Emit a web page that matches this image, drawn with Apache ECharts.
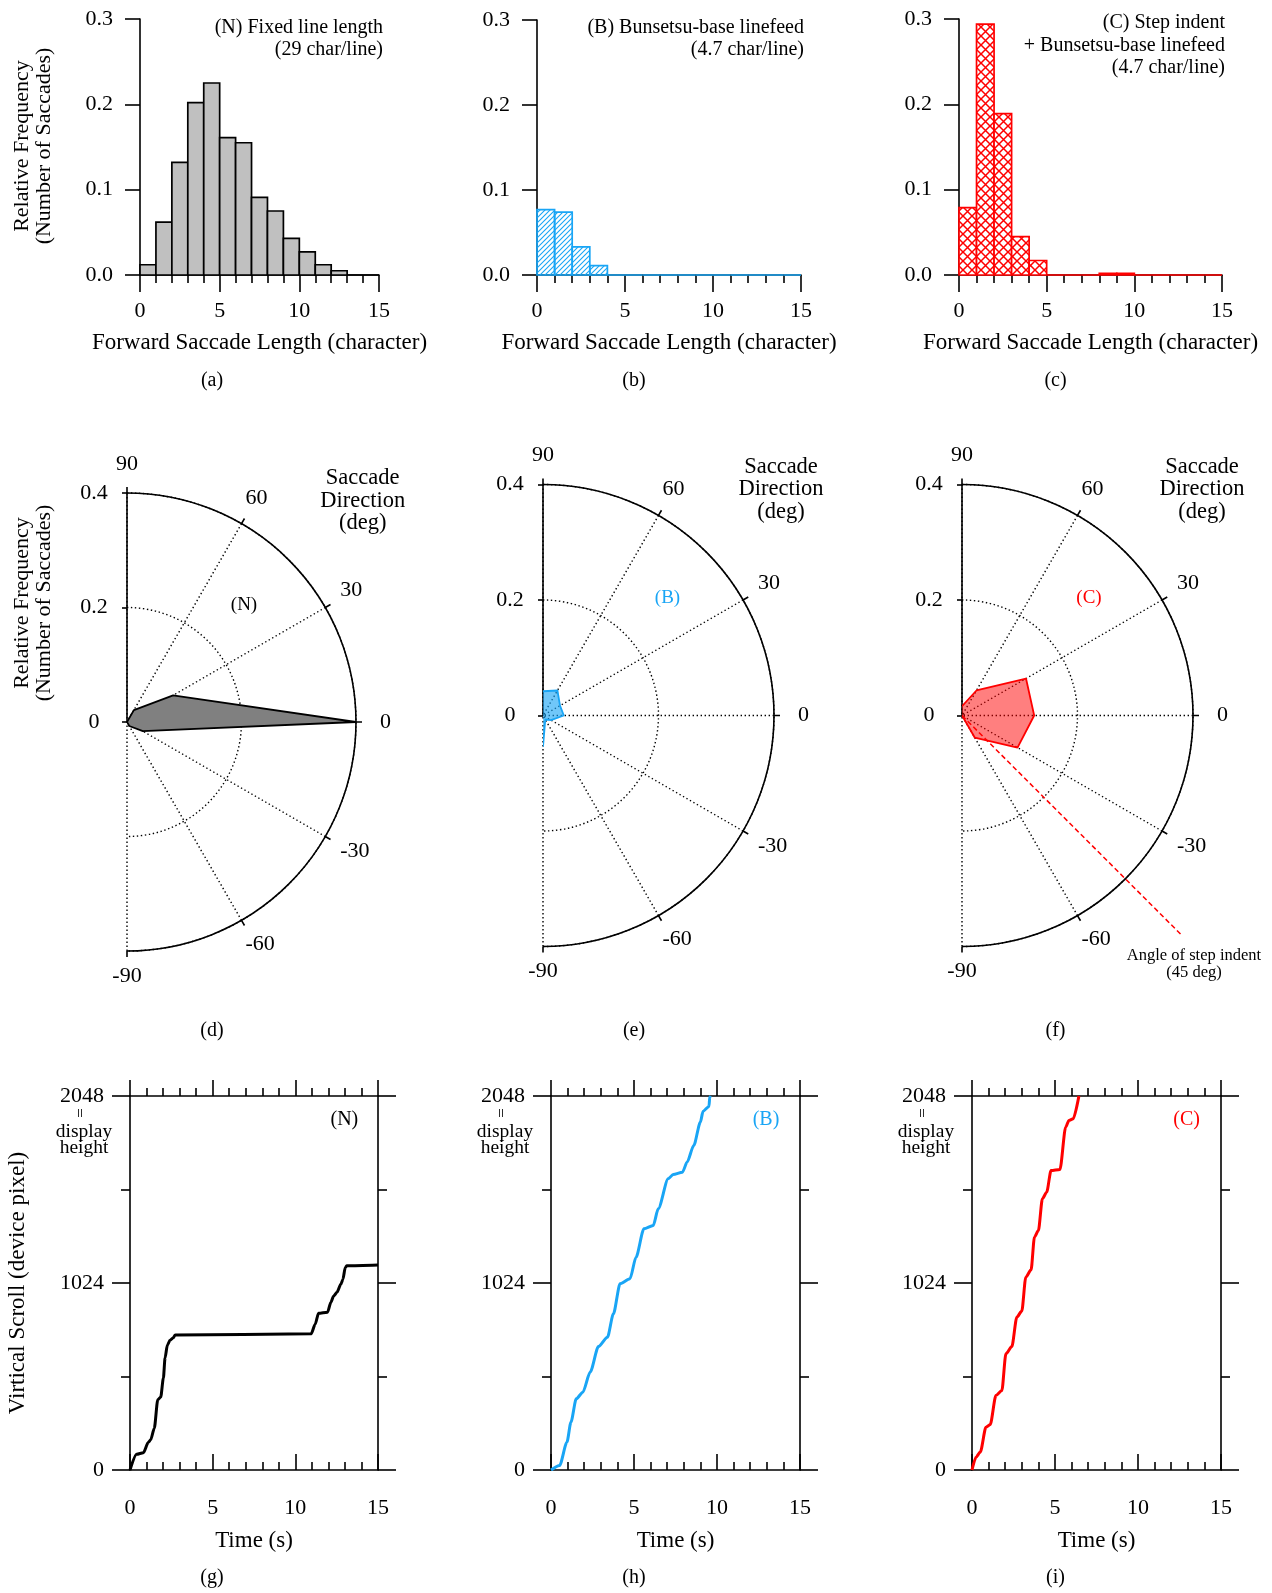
<!DOCTYPE html>
<html><head><meta charset="utf-8">
<script src="https://cdn.jsdelivr.net/npm/echarts@6/dist/echarts.min.js"></script>
<style>html,body{margin:0;padding:0;background:#fff}#c{width:1272px;height:1593px}</style>
</head><body><div id="c"></div>
<script>
// ---------------- DATA ----------------
const binEdges = [0,1,2,3,4,5,6,7,8,9,10,11,12,13,14,15];
const histN = [0.012,0.062,0.132,0.202,0.225,0.161,0.155,0.091,0.075,0.043,0.027,0.012,0.005,0,0];
const histB = [0.077,0.074,0.033,0.011,0,0,0,0,0,0,0,0,0,0,0];
const histC = [0.079,0.294,0.189,0.045,0.017,0,0,0,0.002,0.002,0,0,0,0,0];

const dirAngles = [90,60,30,0,-30,-60,-90];
const dirN = [0,0.024,0.093,0.40,0.032,0.008,0];
const dirB = [0.042,0.050,0.034,0.036,0.016,0.008,0.054];
const dirC = [0.016,0.050,0.128,0.125,0.111,0.044,0];
const stepIndentAngle = -45;
const stepIndentRadius = [0, 0.54];

const scrollN_t = [0,0.4,0.81,1.11,1.25,1.47,1.68,1.86,2.02,2.12,2.26,2.42,2.62,2.73,10.96,11.2,11.4,11.95,12.15,12.31,12.51,12.76,12.88,13.02,13.12,15];
const scrollN_v = [0,86,95,152,165,229,385,400,504,614,684,710,724,739,746,798,858,864,919,952,972,1018,1045,1109,1118,1122];
const scrollB_t = [0,0.52,0.96,1.2,1.52,1.92,2.36,2.86,3.4,3.76,4.16,4.76,5.12,5.6,6.16,6.46,7.06,7.36,7.92,8.2,8.6,9.0,9.16,9.52,9.56,9.62];
const scrollB_v = [0,25,152,262,390,426,536,676,727,855,1020,1047,1165,1321,1339,1430,1595,1618,1631,1686,1777,1905,1965,1991,2042,2048];
const scrollC_t = [0,0.24,0.5,0.84,1.1,1.44,1.8,2.04,2.4,2.7,3.0,3.24,3.56,3.76,4.0,4.24,4.5,4.76,5.3,5.64,5.84,6.1,6.44];
const scrollC_v = [0,70,98,234,249,408,435,636,676,837,870,1056,1096,1275,1311,1485,1521,1640,1646,1877,1914,1923,2048];

const histTicksY = [0, 0.3, 0.1];
const scrollTicksY = [0, 2048, 1024];
const timeRange = [0, 15, 5];

// ---------------- STYLE ----------------
const FONT = 'Liberation Serif';
const BLUE = '#19a5f5';
const RED = '#ff0000';
const BLACK = '#000';
const axisLS = {color: BLACK, width: 1.6};
const tickLabel = {fontFamily: FONT, fontSize: 22, color: BLACK};
const nameStyle = {fontFamily: FONT, fontSize: 23, color: BLACK};

function hatch(color, s) {
  const c = document.createElement('canvas'); c.width = c.height = s;
  const g = c.getContext('2d'); g.strokeStyle = color; g.lineWidth = 1.1;
  g.beginPath();
  g.moveTo(0, s); g.lineTo(s, 0);
  g.moveTo(-1, 1); g.lineTo(1, -1);
  g.moveTo(s - 1, s + 1); g.lineTo(s + 1, s - 1);
  g.stroke();
  return c;
}
function cross(color, s) {
  const c = document.createElement('canvas'); c.width = c.height = s;
  const g = c.getContext('2d'); g.fillStyle = '#fff'; g.fillRect(0,0,s,s);
  g.strokeStyle = color; g.lineWidth = 1.5;
  g.beginPath();
  g.moveTo(0, 0); g.lineTo(s, s);
  g.moveTo(0, s); g.lineTo(s, 0);
  g.stroke();
  return c;
}

const histGrids = [
  {left: 140, top: 19, width: 239, height: 256},
  {left: 537, top: 20, width: 264, height: 255},
  {left: 959, top: 19, width: 263, height: 256}
];
const lineGrids = [
  {left: 130, top: 1096, width: 248, height: 374},
  {left: 551, top: 1096, width: 249, height: 374},
  {left: 972, top: 1096, width: 249, height: 374}
];
const polars = [
  {center: [127, 722], radius: 229},
  {center: [543, 715.5], radius: 231},
  {center: [962, 715.5], radius: 231}
];

function histSeries(idx, values, fill, stroke) {
  return {
    type: 'custom', xAxisIndex: idx, yAxisIndex: idx, silent: true, z: 3,
    data: values.map((v, i) => [binEdges[i], binEdges[i + 1], v]),
    encode: {x: [0, 1], y: 2},
    renderItem(params, api) {
      const a = api.coord([api.value(0), api.value(2)]);
      const b = api.coord([api.value(1), 0]);
      return {type: 'rect', shape: {x: a[0], y: a[1], width: b[0] - a[0], height: b[1] - a[1]},
        style: {fill: fill, stroke: stroke, lineWidth: 1.7}};
    }
  };
}

const xAxes = [], yAxes = [], series = [];
histGrids.forEach((g, k) => {
  xAxes.push({gridIndex: k, type: 'value', min: timeRange[0], max: timeRange[1], interval: timeRange[2],
    axisLine: {onZero: false, lineStyle: axisLS},
    axisTick: {length: 17, lineStyle: axisLS},
    minorTick: {show: true, splitNumber: 5, length: 8, lineStyle: axisLS},
    splitLine: {show: false}, minorSplitLine: {show: false},
    axisLabel: Object.assign({margin: 25}, tickLabel),
    name: 'Forward Saccade Length (character)', nameLocation: 'middle', nameGap: 56, nameTextStyle: nameStyle});
  yAxes.push({gridIndex: k, type: 'value', min: histTicksY[0], max: histTicksY[1], interval: histTicksY[2],
    axisLine: {show: true, lineStyle: axisLS},
    axisTick: {show: true, length: 15, lineStyle: axisLS},
    splitLine: {show: false},
    axisLabel: Object.assign({margin: 27, formatter: v => v.toFixed(1)}, tickLabel)});
});
lineGrids.forEach((g, k) => {
  xAxes.push({gridIndex: 3 + k, type: 'value', min: timeRange[0], max: timeRange[1], interval: timeRange[2], position: 'bottom',
    axisLine: {onZero: false, lineStyle: axisLS},
    axisTick: {inside: true, length: 16, lineStyle: axisLS},
    minorTick: {show: true, splitNumber: 5, length: 8, lineStyle: axisLS},
    splitLine: {show: false},
    axisLabel: Object.assign({margin: 27}, tickLabel),
    name: 'Time (s)', nameLocation: 'middle', nameGap: 59, nameTextStyle: nameStyle});
  yAxes.push({gridIndex: 3 + k, type: 'value', min: scrollTicksY[0], max: scrollTicksY[1], interval: scrollTicksY[2], position: 'left',
    axisLine: {show: true, onZero: false, lineStyle: axisLS},
    axisTick: {show: true, length: 18, lineStyle: axisLS},
    minorTick: {show: true, splitNumber: 2, length: 9, lineStyle: axisLS},
    splitLine: {show: false},
    axisLabel: Object.assign({margin: 26, formatter: v => String(v)}, tickLabel)});
});
lineGrids.forEach((g, k) => {
  xAxes.push({gridIndex: 3 + k, type: 'value', min: timeRange[0], max: timeRange[1], interval: timeRange[2], position: 'top',
    axisLine: {onZero: false, lineStyle: axisLS},
    axisTick: {length: 16, lineStyle: axisLS},
    minorTick: {show: true, splitNumber: 5, length: 8, lineStyle: axisLS},
    splitLine: {show: false}, axisLabel: {show: false}});
  yAxes.push({gridIndex: 3 + k, type: 'value', min: scrollTicksY[0], max: scrollTicksY[1], interval: scrollTicksY[2], position: 'right',
    axisLine: {show: true, onZero: false, lineStyle: axisLS},
    axisTick: {show: true, length: 18, lineStyle: axisLS},
    minorTick: {show: true, splitNumber: 2, length: 9, lineStyle: axisLS},
    splitLine: {show: false}, axisLabel: {show: false}});
});

series.push(histSeries(0, histN, '#c0c0c0', BLACK));
series.push(histSeries(1, histB, {image: hatch(BLUE, 5), repeat: 'repeat'}, BLUE));
series.push(histSeries(2, histC, {image: cross(RED, 9), repeat: 'repeat'}, RED));

const scrollSets = [[scrollN_t, scrollN_v, BLACK], [scrollB_t, scrollB_v, BLUE], [scrollC_t, scrollC_v, RED]];
scrollSets.forEach((s, k) => {
  series.push({type: 'line', xAxisIndex: 3 + k, yAxisIndex: 3 + k, symbol: 'none', smooth: 0.25, smoothMonotone: 'x',
    data: s[0].map((t, i) => [t, s[1][i]]), lineStyle: {color: s[2], width: 3}, silent: true, z: 3});
});

// angle-axis label offsets (rich padding) so labels sit radially outside the arc
const angleRich = {};
const anglePad = {0: [0,0,10,0], 30: [0,0,8,0], 60: [0,0,2,8], 90: [0,0,0,16], 120: [0,0,0,8], 150: [6,0,0,0], 180: [6,0,0,0]};
Object.keys(anglePad).forEach(k => {
  angleRich['a' + k] = {padding: anglePad[k], fontFamily: FONT, fontSize: 22, color: BLACK};
});

const angleAxes = [], radiusAxes = [];
const dotLS = {color: BLACK, width: 1.4, type: [1.4, 2.6]};
polars.forEach((p, k) => {
  angleAxes.push({polarIndex: k, type: 'value', min: 0, max: 180, interval: 30, startAngle: 90, endAngle: -90, clockwise: true,
    axisLine: {show: true, lineStyle: axisLS},
    axisTick: {show: true, length: 6, lineStyle: axisLS},
    axisLabel: Object.assign({show: true, margin: 8, formatter: v => '{a' + v + '|' + (90 - v) + '}', rich: angleRich}, tickLabel),
    splitLine: {show: true, lineStyle: dotLS}});
  radiusAxes.push({polarIndex: k, type: 'value', min: 0, max: 0.4, interval: 0.2,
    axisLine: {show: true, lineStyle: axisLS},
    axisTick: {show: true, length: 5, lineStyle: axisLS},
    axisLabel: Object.assign({margin: 33, align: 'center', formatter: v => v === 0 ? '0' : v.toFixed(1)}, tickLabel),
    splitLine: {show: true, lineStyle: dotLS}});
});
const dirSets = [[dirN, '#808080', BLACK, 1], [dirB, BLUE, BLUE, 0.62], [dirC, RED, RED, 0.5]];
dirSets.forEach((d, k) => {
  series.push({type: 'line', coordinateSystem: 'polar', polarIndex: k, symbol: 'none', silent: true, z: 3,
    data: dirAngles.map((a, i) => [d[0][i], 90 - a]),
    lineStyle: {color: d[2], width: 1.8}, areaStyle: {color: d[1], opacity: d[3]}});
});
// step-indent reference line (goes beyond the outer arc)
series.push({type: 'custom', coordinateSystem: 'polar', polarIndex: 2, silent: true, z: 4,
  data: [[stepIndentRadius[0], stepIndentRadius[1], 90 - stepIndentAngle]],
  encode: {radius: [0, 1], angle: 2},
  renderItem(params, api) {
    const p0 = api.coord([api.value(0), api.value(2)]);
    const p1 = api.coord([api.value(1), api.value(2)]);
    return {type: 'line', shape: {x1: p0[0], y1: p0[1], x2: p1[0], y2: p1[1]},
      style: {stroke: RED, lineWidth: 1.5, lineDash: [5, 3], fill: null}};
  }});

// ---------------- TEXT ----------------
function txt(x, y, text, size, o) {
  o = o || {};
  return {type: 'text', x: x, y: y, rotation: o.rot || 0, silent: true, z: 10,
    style: {text: text, fontFamily: FONT, fontSize: size, fill: o.color || BLACK,
      align: o.align || 'center', verticalAlign: 'middle', lineHeight: o.lh || size}};
}
const graphics = [];
[['(a)',212,381],['(b)',634,381],['(c)',1055.5,381],['(d)',212,1031],['(e)',634,1031],['(f)',1055.5,1031],['(g)',212,1578],['(h)',634,1578],['(i)',1055.5,1578]]
  .forEach(c => graphics.push(txt(c[1], c[2], c[0], 20)));
graphics.push(txt(383, 27.5, '(N) Fixed line length', 20, {align: 'right'}));
graphics.push(txt(383, 49.5, '(29 char/line)', 20, {align: 'right'}));
graphics.push(txt(804, 27.5, '(B) Bunsetsu-base linefeed', 20, {align: 'right'}));
graphics.push(txt(804, 49.5, '(4.7 char/line)', 20, {align: 'right'}));
graphics.push(txt(1225, 23, '(C) Step indent', 20, {align: 'right'}));
graphics.push(txt(1225, 45.5, '+ Bunsetsu-base linefeed', 20, {align: 'right'}));
graphics.push(txt(1225, 68, '(4.7 char/line)', 20, {align: 'right'}));
graphics.push(txt(33, 146, 'Relative Frequency\n(Number of Saccades)', 22, {rot: Math.PI / 2, lh: 21.5}));
graphics.push(txt(33, 603, 'Relative Frequency\n(Number of Saccades)', 22, {rot: Math.PI / 2, lh: 21.5}));
graphics.push(txt(17.5, 1283, 'Virtical Scroll (device pixel)', 23, {rot: Math.PI / 2}));
[[362.7, 478.5], [781, 467], [1202, 467]].forEach(p => {
  graphics.push(txt(p[0], p[1], 'Saccade', 22.5));
  graphics.push(txt(p[0], p[1] + 22.5, 'Direction', 22.5));
  graphics.push(txt(p[0], p[1] + 45, '(deg)', 22.5));
});
graphics.push(txt(244, 605.5, '(N)', 19));
graphics.push(txt(667.5, 598.5, '(B)', 19, {color: BLUE}));
graphics.push(txt(1089, 598.5, '(C)', 19, {color: RED}));
graphics.push(txt(1194, 956, 'Angle of step indent', 16.5));
graphics.push(txt(1194, 973, '(45 deg)', 16.5));
graphics.push(txt(344.4, 1119.6, '(N)', 20));
graphics.push(txt(766, 1119.6, '(B)', 20, {color: BLUE}));
graphics.push(txt(1186.7, 1119.6, '(C)', 20, {color: RED}));
lineGrids.forEach(g => {
  const cx = g.left - 46;
  graphics.push(txt(cx - 2, 1113, '=', 17, {rot: Math.PI / 2}));
  graphics.push(txt(cx, 1131.5, 'display', 19.5));
  graphics.push(txt(cx, 1148, 'height', 19.5));
});

const chart = echarts.init(document.getElementById('c'), null, {renderer: 'canvas'});
chart.setOption({
  animation: false,
  backgroundColor: '#fff',
  textStyle: {fontFamily: FONT},
  grid: histGrids.concat(lineGrids),
  xAxis: xAxes, yAxis: yAxes,
  polar: polars, angleAxis: angleAxes, radiusAxis: radiusAxes,
  series: series,
  graphic: graphics
});
</script></body></html>
